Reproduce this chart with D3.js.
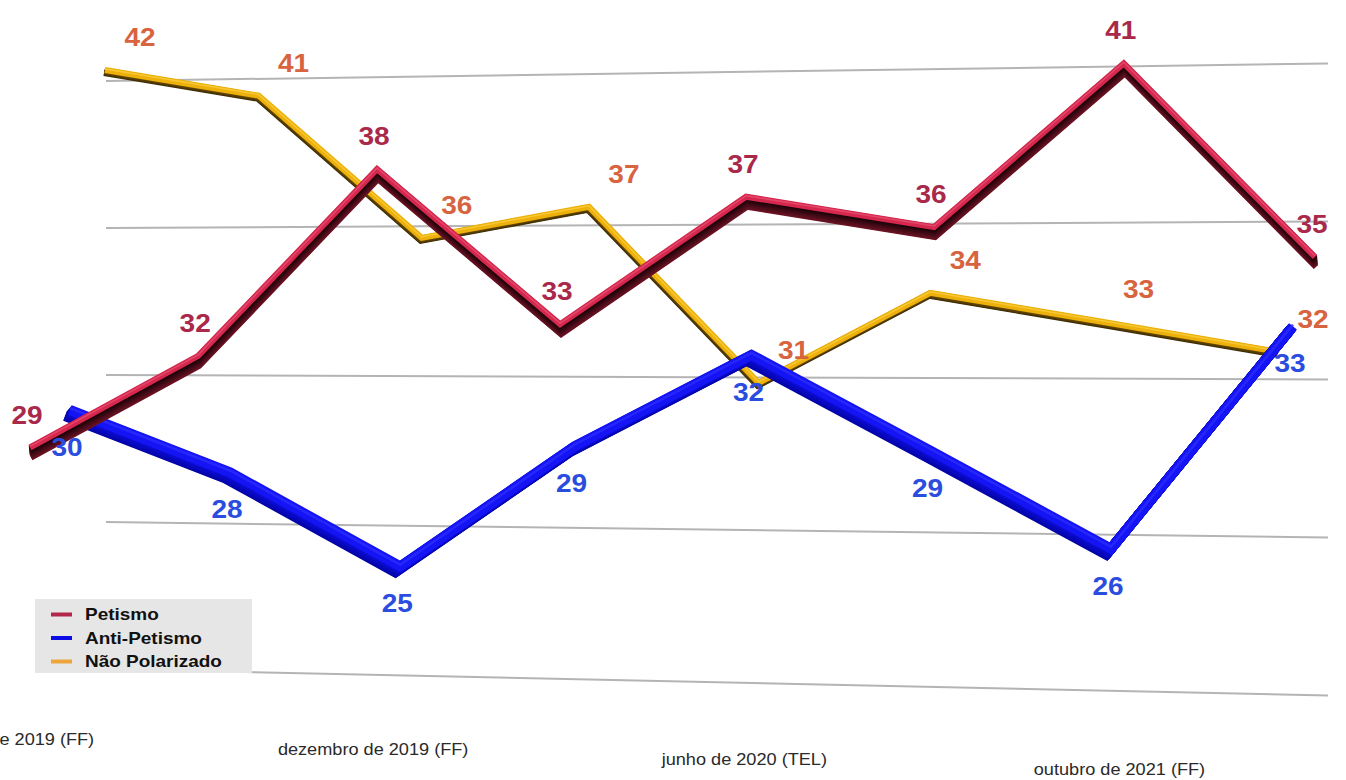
<!DOCTYPE html>
<html>
<head>
<meta charset="utf-8">
<script src="https://cdn.jsdelivr.net/npm/d3@7"></script>
<style>
  html, body { margin: 0; padding: 0; background: #fff; overflow: hidden; }
  svg { display: block; font-family: "Liberation Sans", Arial, Helvetica, sans-serif; }
</style>
</head>
<body>
<svg id="chart" width="1346" height="780"></svg>
<script>
// ---- data ----
const petismo       = [29, 32, 38, 33, 37, 36, 41, 35];
const antiPetismo   = [30, 28, 25, 29, 32, 29, 26, 33];
const naoPolarizado = [42, 41, 36, 37, 31, 34, 33, 32];
const seriesNames   = ["Petismo", "Anti-Petismo", "Não Polarizado"];
const gridValues    = [40, 35, 30, 25, 20];
const tickLabels    = ["agosto de 2019 (FF)", "dezembro de 2019 (FF)", "junho de 2020 (TEL)", "outubro de 2021 (FF)"];
const tickIndex     = [0, 2, 4, 6];

// ---- perspective layout ----
// The chart is seen in perspective: the right side is nearer the viewer, so
// horizontal spacing and the vertical unit grow slightly to the right. Each
// ribbon sits at its own depth in front of the back wall carrying the grid.
const svg = d3.select("#chart");
const nPts = petismo.length;
const textStretch = 1.12;

// back wall (grid)
const wallX = [106, 1328];
const wallLeft  = d3.scaleLinear().domain([30, 40]).range([375, 81]);
const wallRight = d3.scaleLinear().domain([30, 40]).range([379.5, 63.5]);

// ribbon depths: screen extent, baseline (value 30) and pixels per point at both ends
const depth = {
  "Petismo":        { x: [30, 1315],  base: [417, 421], unit: [30.5, 32.8] },
  "Anti-Petismo":   { x: [70, 1293],  base: [410, 423], unit: [30.0, 32.2] },
  "Não Polarizado": { x: [105, 1278], base: [412, 413], unit: [28.5, 30.6] }
};

function projector(cfg) {
  const x = d3.scalePow().exponent(1.045).domain([0, nPts - 1]).range(cfg.x);
  const base = d3.scaleLinear().domain(cfg.x).range(cfg.base);
  const unit = d3.scaleLinear().domain(cfg.x).range(cfg.unit);
  return (v, i) => {
    const px = x(i);
    const y = d3.scaleLinear().domain([30, 31]).range([base(px), base(px) - unit(px)]);
    return [px, y(v)];
  };
}

const styles = {
  "Petismo": {
    values: petismo, w: 6, dx: 1, dy: 10,
    top: "#d6274f", sideNear: "#170307", sideFar: "#6e1426", hi: "#e6506f",
    label: "#a8294a", lx: -3, ly: -33, swatch: "#b3284a"
  },
  "Anti-Petismo": {
    values: antiPetismo, w: 10, dx: -5, dy: 6,
    top: "#1414f4", sideNear: "#0d0dd6", sideFar: "#0505a6", hi: "#2c2cff",
    label: "#2a4de0", lx: -3, ly: 37, swatch: "#0c0ce6"
  },
  "Não Polarizado": {
    values: naoPolarizado, w: 6, dx: -1, dy: 3,
    top: "#eeb00a", sideNear: "#6e5008", sideFar: "#3e2c04", hi: "#f8cf3e",
    label: "#d8643f", lx: 35, ly: -33, swatch: "#eea63c"
  }
};

// ---- grid ----
const grid = svg.append("g").attr("class", "grid");
grid.selectAll("line")
  .data(gridValues)
  .join("line")
  .attr("x1", wallX[0]).attr("x2", wallX[1])
  .attr("y1", d => wallLeft(d)).attr("y2", d => wallRight(d))
  .attr("stroke", "#b4b4b4")
  .attr("stroke-width", 2);

// ---- legend ----
const legend = svg.append("g").attr("class", "legend");
legend.append("rect")
  .attr("x", 35).attr("y", 599).attr("width", 217).attr("height", 74)
  .attr("fill", "#e6e6e6");
const legendRows = legend.selectAll("g.row")
  .data(seriesNames)
  .join("g")
  .attr("class", "row")
  .attr("transform", (d, i) => `translate(0, ${614.5 + i * 23.5})`);
legendRows.append("line")
  .attr("x1", 51).attr("x2", 72).attr("y1", 0).attr("y2", 0)
  .attr("stroke", d => styles[d].swatch)
  .attr("stroke-width", 4);
legendRows.append("text")
  .attr("transform", `translate(85, 0) scale(1.15, 1)`)
  .attr("dy", "0.36em")
  .attr("font-size", 16.5)
  .attr("font-weight", "bold")
  .attr("fill", "#111")
  .text(d => d);

// ---- ribbons ----
const line = d3.line();
function drawRibbon(name) {
  const st = styles[name];
  const proj = projector(depth[name]);
  const pts = st.values.map((v, i) => proj(v, i));
  const g = svg.append("g").attr("class", "ribbon");
  const steps = Math.ceil(Math.hypot(st.dx, st.dy) * 1.5);
  const shade = d3.interpolateRgb(st.sideNear, st.sideFar);
  // extruded side, drawn from the far edge towards the face
  for (let s = steps; s >= 1; s--) {
    const t = s / steps;
    g.append("path")
      .attr("d", line(pts.map(p => [p[0] + st.dx * t, p[1] + st.dy * t])))
      .attr("fill", "none")
      .attr("stroke", shade(t))
      .attr("stroke-width", st.w)
      .attr("stroke-linejoin", "miter")
      .attr("stroke-miterlimit", 6);
  }
  // face
  g.append("path")
    .attr("d", line(pts))
    .attr("fill", "none")
    .attr("stroke", st.top)
    .attr("stroke-width", st.w)
    .attr("stroke-linejoin", "miter")
    .attr("stroke-miterlimit", 6);
  // highlight along the upper edge of the face
  g.append("path")
    .attr("d", line(pts.map(p => [p[0], p[1] - st.w * 0.18])))
    .attr("fill", "none")
    .attr("stroke", st.hi)
    .attr("stroke-width", Math.max(1.2, st.w * 0.25))
    .attr("stroke-linejoin", "miter")
    .attr("stroke-miterlimit", 6)
    .attr("opacity", 0.8);
  return pts;
}

// back to front
const drawOrder = ["Não Polarizado", "Anti-Petismo", "Petismo"];
const placed = {};
drawOrder.forEach(name => { placed[name] = drawRibbon(name); });

// ---- value labels ----
const labels = svg.append("g").attr("class", "value-labels");
drawOrder.forEach(name => {
  const st = styles[name];
  labels.append("g")
    .selectAll("text")
    .data(st.values)
    .join("text")
    .attr("transform", (d, i) => {
      const p = placed[name][i];
      return `translate(${p[0] + st.lx}, ${p[1] + st.ly}) scale(${textStretch}, 1)`;
    })
    .attr("text-anchor", "middle")
    .attr("dy", "0.36em")
    .attr("font-size", 25)
    .attr("font-weight", "bold")
    .attr("fill", st.label)
    .text(d => d);
});

// ---- category labels ----
const axisX = d3.scalePow().exponent(1.02).domain([0, nPts - 1]).range([12, 1308]);
const axisY = d3.scaleLinear().domain([12, 1118]).range([739, 769]);
svg.append("g").attr("class", "x-labels")
  .selectAll("text")
  .data(tickLabels)
  .join("text")
  .attr("transform", (d, k) => {
    const x = axisX(tickIndex[k]);
    return `translate(${x}, ${axisY(x)}) scale(1.1, 1)`;
  })
  .attr("text-anchor", "middle")
  .attr("dy", "0.36em")
  .attr("font-size", 16.5)
  .attr("fill", "#2a2a2a")
  .text(d => d);
</script>
</body>
</html>
